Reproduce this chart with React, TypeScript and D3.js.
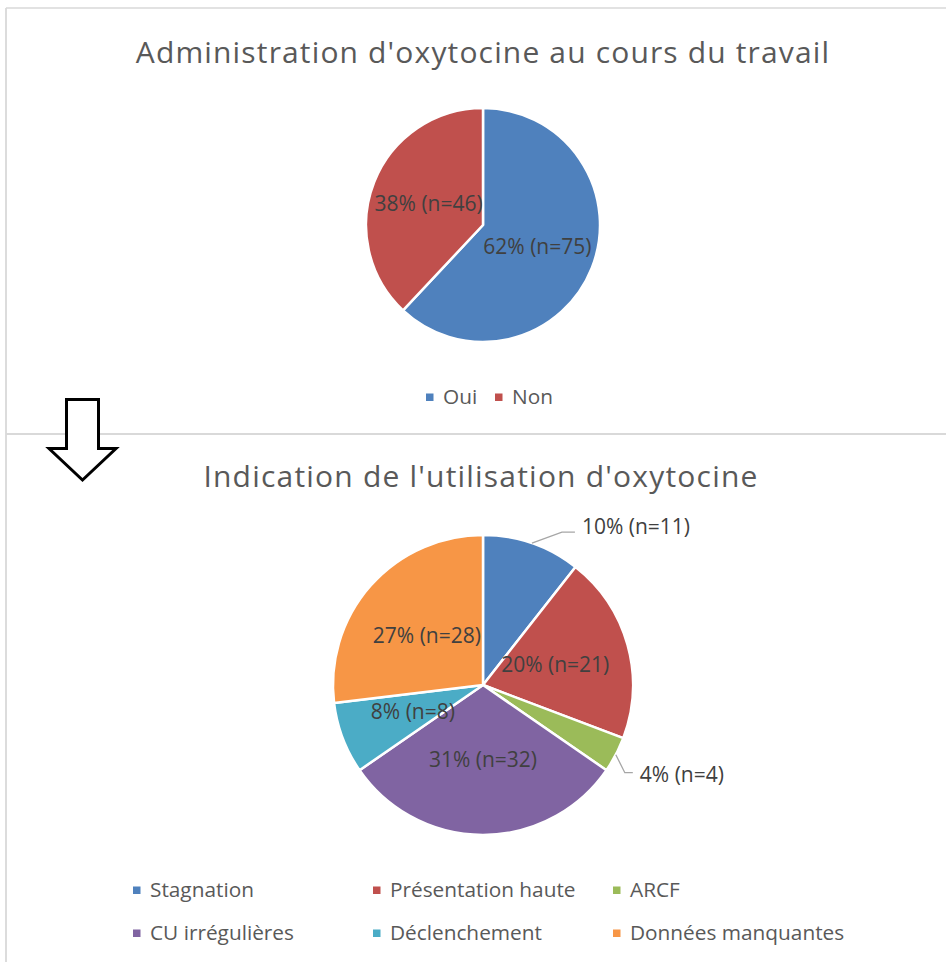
import React from "react";
import * as d3 from "d3";

// ---------- data ----------
const adminCategories = ["Oui", "Non"];
const adminCounts = [75, 46];
const adminPercents = [62, 38];
const adminColors = ["#4F81BD", "#C0504D"];

const indicCategories = [
  "Stagnation",
  "Présentation haute",
  "ARCF",
  "CU irrégulières",
  "Déclenchement",
  "Données manquantes",
];
const indicCounts = [11, 21, 4, 32, 8, 28];
const indicPercents = [10, 20, 4, 31, 8, 27];
const indicColors = ["#4F81BD", "#C0504D", "#9BBB59", "#8064A2", "#4BACC6", "#F79646"];

const title1 = "Administration d'oxytocine au cours du travail";
const title2 = "Indication de l'utilisation d'oxytocine";

// layout config: which slices get an outside label with leader (Excel best-fit result)
const OUTSIDE = {
  Stagnation: { elbow: [30, -11], end: [43, -11], text: [50, -17] },
  ARCF: { elbow: [9, 18], end: [17, 18], text: [24, 20] },
};

const FONT = "'Open Sans', 'Noto Sans', sans-serif";
const TITLE_COLOR = "#595959";
const LABEL_COLOR = "#404040";

type PieProps = {
  cx: number;
  cy: number;
  r: number;
  categories: string[];
  counts: number[];
  percents: number[];
  colors: string[];
};

function Pie({ cx, cy, r, categories, counts, percents, colors }: PieProps) {
  const pie = d3
    .pie<number>()
    .sort(null)
    .value((d) => d)
    .startAngle(0)
    .endAngle(2 * Math.PI);
  const arcs = pie(counts);
  const arc = d3.arc<d3.PieArcDatum<number>>().innerRadius(0).outerRadius(r);
  return (
    <g transform={`translate(${cx},${cy})`}>
      {arcs.map((a, i) => (
        <path key={i} d={arc(a) || ""} fill={colors[i]} stroke="#fff" strokeWidth={2.5} strokeLinejoin="round" />
      ))}
      {arcs.map((a, i) => {
        const cat = categories[i];
        const label = `${percents[i]}% (n=${counts[i]})`;
        const o = (OUTSIDE as any)[cat];
        if (o) {
          const mid = (a.startAngle + a.endAngle) / 2;
          const ex = Math.sin(mid) * r;
          const ey = -Math.cos(mid) * r;
          return (
            <g key={"l" + i}>
              <polyline
                points={`${ex},${ey} ${ex + o.elbow[0]},${ey + o.elbow[1]} ${ex + o.end[0]},${ey + o.end[1]}`}
                fill="none"
                stroke="#A6A6A6"
                strokeWidth={1.3}
              />
              <text
                x={ex + o.text[0]}
                y={ey + o.text[1]}
                dy="0.35em"
                fontFamily={FONT}
                fontSize={21}
                fill={LABEL_COLOR}
              >
                {label}
              </text>
            </g>
          );
        }
        const [lx, ly] = arc.centroid(a);
        return (
          <text
            key={"l" + i}
            x={lx}
            y={ly}
            dy="0.35em"
            textAnchor="middle"
            fontFamily={FONT}
            fontSize={21}
            fill={LABEL_COLOR}
          >
            {label}
          </text>
        );
      })}
    </g>
  );
}

function LegendItem({ x, yc, color, text }: { x: number; yc: number; color: string; text: string }) {
  return (
    <g>
      <rect x={x} y={yc - 3.5} width={7.5} height={7.5} fill={color} />
      <text x={x + 17} y={yc + 7} fontFamily={FONT} fontSize={20.8} fill={TITLE_COLOR}>
        {text}
      </text>
    </g>
  );
}

export default function App() {
  const W = 946;
  const H = 962;
  const border = "#D9D9D9";
  const topLegendX = [426, 495];
  const bottomLegendX = [133, 373, 613];
  const bottomLegendY = [890, 933];
  return (
    <svg
      width={W}
      height={H}
      style={{ position: "absolute", left: 0, top: 0, background: "#fff" }}
      viewBox={`0 0 ${W} ${H}`}
    >
      <rect x={0} y={0} width={W} height={H} fill="#fff" />
      {/* chart borders */}
      <line x1={6} y1={8} x2={W} y2={8} stroke={border} strokeWidth={1.5} />
      <line x1={6} y1={8} x2={6} y2={H} stroke={border} strokeWidth={1.8} />
      <line x1={6} y1={434} x2={W} y2={434} stroke={border} strokeWidth={1.8} />

      {/* top chart */}
      <text
        x={483}
        y={63}
        textAnchor="middle"
        fontFamily={FONT}
        fontSize={30}
        letterSpacing={1.15}
        fill={TITLE_COLOR}
      >
        {title1}
      </text>
      <Pie
        cx={483}
        cy={225}
        r={117}
        categories={adminCategories}
        counts={adminCounts}
        percents={adminPercents}
        colors={adminColors}
      />
      {adminCategories.map((c, i) => (
        <LegendItem key={c} x={topLegendX[i]} yc={397} color={adminColors[i]} text={c} />
      ))}

      {/* arrow */}
      <polygon
        points="66.5,399.5 98.5,399.5 98.5,448.5 116,448.5 82.5,480 49,448.5 66.5,448.5"
        fill="#fff"
        stroke="#000"
        strokeWidth={3}
        strokeLinejoin="miter"
      />

      {/* bottom chart */}
      <text
        x={481}
        y={487}
        textAnchor="middle"
        fontFamily={FONT}
        fontSize={30}
        letterSpacing={1.2}
        fill={TITLE_COLOR}
      >
        {title2}
      </text>
      <Pie
        cx={483}
        cy={685}
        r={150}
        categories={indicCategories}
        counts={indicCounts}
        percents={indicPercents}
        colors={indicColors}
      />
      {indicCategories.map((c, i) => (
        <LegendItem
          key={c}
          x={bottomLegendX[i % 3]}
          yc={bottomLegendY[Math.floor(i / 3)]}
          color={indicColors[i]}
          text={c}
        />
      ))}
    </svg>
  );
}
